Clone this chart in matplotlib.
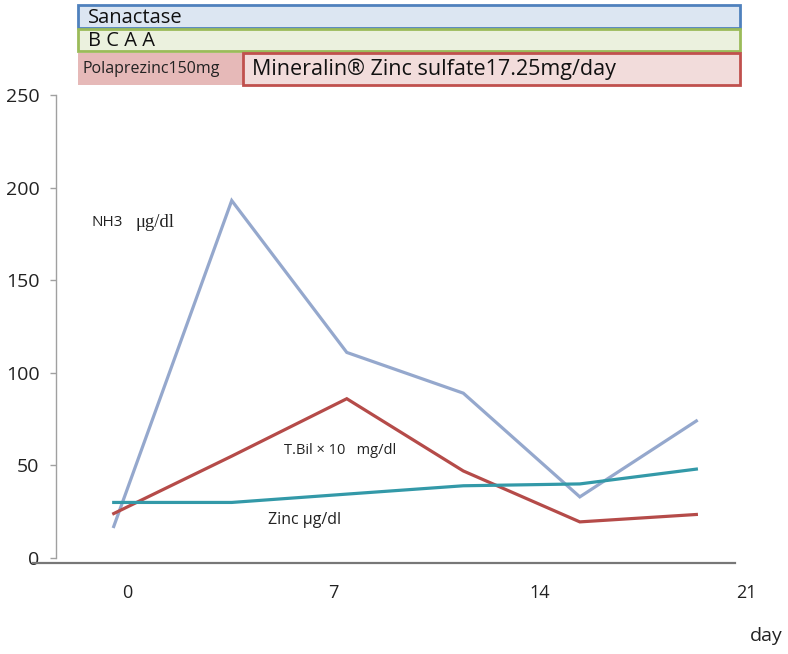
import matplotlib
matplotlib.use('Agg')
import matplotlib.pyplot as plt
from matplotlib.patches import Rectangle

plt.rcParams['font.family'] = ['Open Sans', 'DejaVu Sans']

# sampling positions (days) and series values
days = [-0.45, 3.55, 7.45, 11.4, 15.35, 19.3]
nh3 = [17, 193, 111, 89, 33, 74]
tbil_x10 = [24, 55, 86, 47, 19.5, 23.5]
zinc = [30, 30, 34.5, 39, 40, 48]

x_ticks = [0, 7, 14, 21]
y_ticks = [0, 50, 100, 150, 200, 250]

W, H = 788, 654
fig = plt.figure(figsize=(W / 100, H / 100), dpi=100)

# axes area in pixels: left 33, right 770, top 95, bottom 563
px_day = 29.5
x0_px = 127
left, right, top, bottom = 33, 770, 95, 563
ax = fig.add_axes([left / W, 1 - bottom / H, (right - left) / W, (bottom - top) / H])
ax.set_xlim((left - x0_px) / px_day, (right - x0_px) / px_day)
ax.set_ylim(-(bottom - 558) / 1.852, 250)

ax.plot(days, nh3, color='#95A8CD', lw=2.3, solid_joinstyle='miter')
ax.plot(days, tbil_x10, color='#B54B49', lw=2.3, solid_joinstyle='miter')
ax.plot(days, zinc, color='#3399A8', lw=2.3)

# spines
for s in ['top', 'right']:
    ax.spines[s].set_visible(False)
ax.spines['left'].set_position(('data', (56 - x0_px) / px_day))
ax.spines['left'].set_bounds(0, 250)
ax.spines['left'].set_color('#A0A0A0')
ax.spines['left'].set_linewidth(1.0)
ax.spines['bottom'].set_bounds((left - x0_px) / px_day, (735 - x0_px) / px_day)
ax.spines['bottom'].set_color('#777777')
ax.spines['bottom'].set_linewidth(1.6)

ax.set_yticks(y_ticks)
ax.set_yticklabels([str(v) for v in y_ticks])
ax.tick_params(axis='y', direction='out', length=4, width=1, color='#A0A0A0',
               pad=8, labelsize=14, labelcolor='#222222')
ax.set_xticks(x_ticks)
ax.set_xticklabels([str(v) for v in x_ticks])
ax.tick_params(axis='x', length=0, pad=15, labelsize=13, labelcolor='#222222')

# series labels
ax.text(-1.19, 181, 'NH3', fontsize=11, va='center', ha='left', color='#222222')
ax.text(0.3, 181, '\u03bcg/dl', fontsize=13.5, va='center', ha='left', color='#222222',
        family=['Liberation Serif', 'DejaVu Serif'])
ax.text(5.32, 58, 'T.Bil \u00d7 10   mg/dl', fontsize=10.5, va='center', ha='left', color='#222222')
ax.text(4.78, 20.5, 'Zinc \u03bcg/dl', fontsize=11.5, va='center', ha='left', color='#222222')

fig.text(766 / W, 1 - 636 / H, 'day', fontsize=14, ha='center', va='center', color='#222222')


# treatment bars on top
def box(x1, y1, x2, y2, face, edge=None, lw=2.0):
    r = Rectangle((x1 / W, 1 - y2 / H), (x2 - x1) / W, (y2 - y1) / H,
                  transform=fig.transFigure, facecolor=face,
                  edgecolor=edge if edge else 'none', linewidth=lw)
    fig.add_artist(r)


box(78, 5, 740, 28, '#DCE6F2', '#4F81BD')
box(78, 29, 740, 51, '#EBF1DE', '#9BBB59')
box(78, 53, 243, 85, '#E6B9B8')
box(243, 53, 740, 85, '#F2DCDB', '#C0504D')

fig.text(88 / W, 1 - 18 / H, 'Sanactase', fontsize=14.5, ha='left', va='center', color='#111111')
fig.text(88 / W, 1 - 41 / H, 'B C A A', fontsize=14.5, ha='left', va='center', color='#111111')
fig.text(83 / W, 1 - 69 / H, 'Polaprezinc150mg', fontsize=11.5, ha='left', va='center', color='#222222')
fig.text(252 / W, 1 - 69 / H, 'Mineralin\u00ae Zinc sulfate17.25mg/day', fontsize=15.5,
         ha='left', va='center', color='#111111')

fig.savefig('out.png', dpi=100)
plt.close(fig)
